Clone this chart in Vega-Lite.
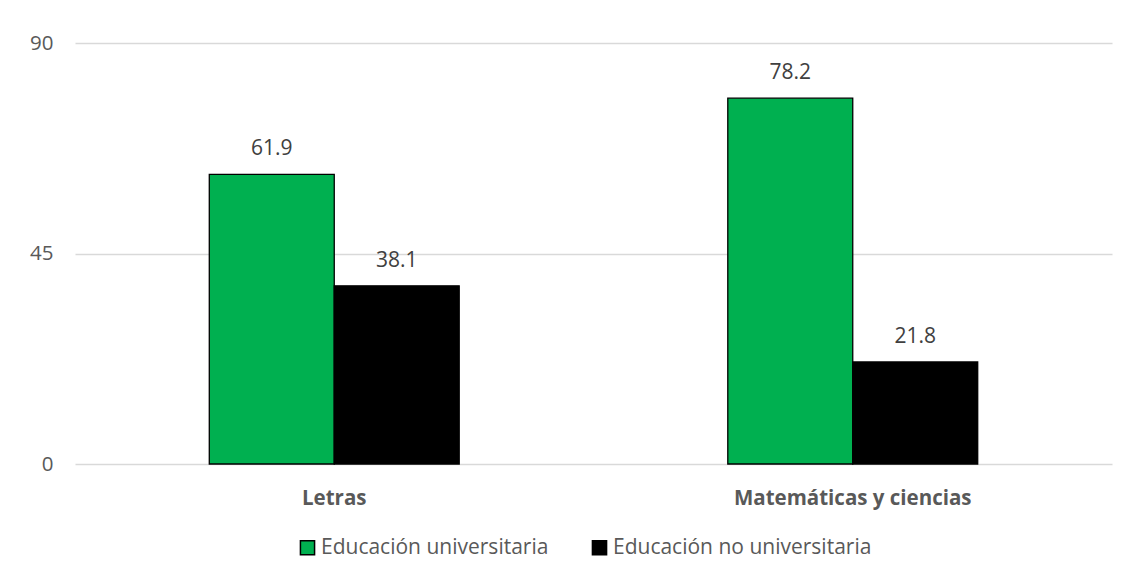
{
  "$schema": "https://vega.github.io/schema/vega-lite/v6.json",
  "width": 1037,
  "height": 421,
  "padding": {"left": 29, "top": 33, "right": 17, "bottom": 5},
  "background": "white",
  "data": {
    "values": [
      {"area": "Letras", "grupo": "Educación universitaria", "valor": 61.9},
      {"area": "Letras", "grupo": "Educación no universitaria", "valor": 38.1},
      {"area": "Matemáticas y ciencias", "grupo": "Educación universitaria", "valor": 78.2},
      {"area": "Matemáticas y ciencias", "grupo": "Educación no universitaria", "valor": 21.8}
    ]
  },
  "encoding": {
    "x": {
      "field": "area", "type": "nominal", "sort": null,
      "scale": {"paddingInner": 0.518, "paddingOuter": 0.259},
      "axis": {"title": null, "labelAngle": 0, "domain": false, "ticks": false,
        "labelFont": "Open Sans", "labelFontSize": 20.5, "labelFontWeight": "bold",
        "labelColor": "#595959", "labelPadding": 24, "labelLimit": 400}
    },
    "xOffset": {"field": "grupo", "type": "nominal",
      "sort": ["Educación universitaria", "Educación no universitaria"]},
    "y": {
      "field": "valor", "type": "quantitative",
      "scale": {"domain": [0, 90]},
      "axis": {"title": null, "values": [0, 45, 90], "domain": false, "ticks": false,
        "labelFont": "Open Sans", "labelFontSize": 20.5, "labelColor": "#595959",
        "labelPadding": 22, "gridColor": "#D9D9D9", "gridWidth": 1.3}
    }
  },
  "layer": [
    {
      "mark": {"type": "bar", "stroke": "black", "strokeWidth": 1.3},
      "encoding": {
        "color": {
          "field": "grupo", "type": "nominal",
          "sort": ["Educación universitaria", "Educación no universitaria"],
          "scale": {"domain": ["Educación universitaria", "Educación no universitaria"], "range": ["#00B050", "#000000"]},
          "legend": {"title": null, "orient": "none", "direction": "horizontal",
            "legendX": 222, "legendY": 494,
            "symbolType": "square", "symbolSize": 200, "symbolStrokeColor": "black",
            "symbolStrokeWidth": 1.5, "symbolOpacity": 1,
            "labelFont": "Open Sans", "labelFontSize": 21, "labelColor": "#595959",
            "labelLimit": 400, "columnPadding": 40, "labelOffset": 3}
        }
      }
    },
    {
      "mark": {"type": "text", "dy": -25, "font": "Open Sans", "fontSize": 21, "color": "#404040"},
      "encoding": {
        "text": {"field": "valor", "type": "quantitative", "format": ".1f"}
      }
    }
  ],
  "config": {"view": {"stroke": null}}
}
